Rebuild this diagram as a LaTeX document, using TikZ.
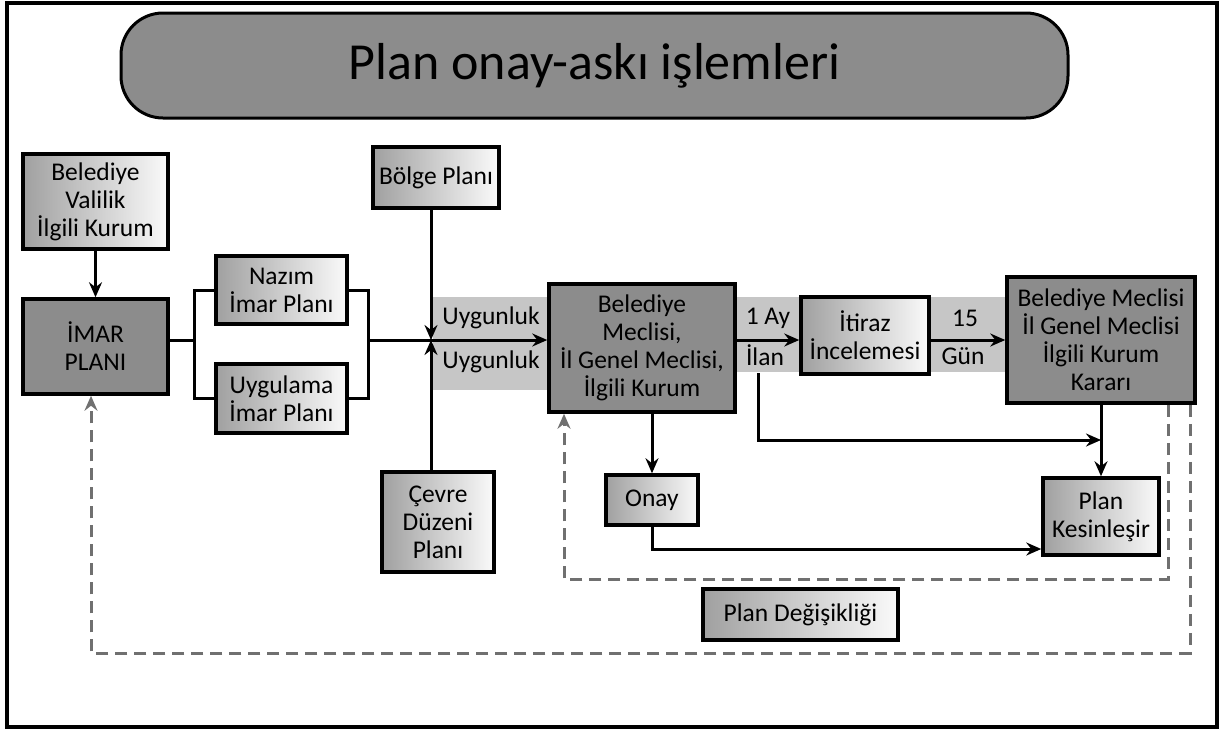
\documentclass[tikz,border=0pt]{standalone}
\usepackage{fontspec}
\setmainfont{Carlito}
\usetikzlibrary{arrows.meta}
\definecolor{boxdark}{RGB}{140,140,140}
\definecolor{bandgray}{RGB}{198,198,198}
\definecolor{dashgray}{RGB}{112,112,112}
\definecolor{gradL}{RGB}{160,160,160}
\definecolor{gradR}{RGB}{250,250,250}
\newcommand\boxfont{\fontsize{25.5}{28}\selectfont}
\begin{document}
\begin{tikzpicture}[x=1pt,y=-1pt,
  box/.style={draw=black, line width=3.5pt, align=center, inner sep=0pt, font=\boxfont, text=black},
  lightbox/.style={box, left color=gradL, right color=gradR},
  darkbox/.style={box, fill=boxdark},
  conn/.style={line width=3pt, draw=black},
  arr/.style={conn, -{Stealth[length=15pt,width=13pt,inset=5pt]}},
  dashloop/.style={draw=dashgray, line width=3pt, dash pattern=on 12pt off 7pt},
  dasharr/.style={dashloop, -{Stealth[length=15pt,width=13pt,inset=5pt]}},
  lbl/.style={font=\boxfont, inner sep=0pt, text=black}
]
\useasboundingbox (0,0) rectangle (1221,729);
% outer frame
\draw[line width=4pt] (7,3) rectangle (1217,727);

% title
\node[draw=black, line width=3pt, fill=boxdark, rounded corners=42pt,
      minimum width=947pt, minimum height=105pt, inner sep=0pt,
      font=\fontsize{52}{60}\selectfont] (title) at (594.5,65.5) {Plan onay-askı işlemleri};

% grey bands behind the labels
\fill[bandgray] (433,297) rectangle (549,390);
\fill[bandgray] (735,297) rectangle (1008,372);

% boxes
\node[lightbox, minimum width=145pt, minimum height=95pt] (bvik) at (95.5,201.5) {Belediye\\Valilik\\İlgili Kurum};
\node[darkbox, minimum width=145pt, minimum height=95pt] (imar) at (95.5,346.5) {İMAR\\PLANI};
\node[lightbox, minimum width=131pt, minimum height=68pt] (nazim) at (281.5,290) {Nazım\\İmar Planı};
\node[lightbox, minimum width=131pt, minimum height=69pt] (uyg) at (281.5,398.5) {Uygulama\\İmar Planı};
\node[lightbox, minimum width=126pt, minimum height=61pt] (bolge) at (436,177.5) {Bölge Planı};
\node[lightbox, minimum width=112pt, minimum height=100pt] (cevre) at (438,522) {Çevre\\Düzeni\\Planı};
\node[darkbox, minimum width=186pt, minimum height=128pt] (bm) at (642,348) {Belediye\\Meclisi,\\İl Genel Meclisi,\\İlgili Kurum};
\node[lightbox, minimum width=92pt, minimum height=50pt] (onay) at (652,500) {Onay};
\node[lightbox, minimum width=128pt, minimum height=77pt] (itiraz) at (865,335.5) {İtiraz\\İncelemesi};
\node[darkbox, minimum width=188pt, minimum height=126pt] (karar) at (1101,340) {Belediye Meclisi\\İl Genel Meclisi\\İlgili Kurum\\Kararı};
\node[lightbox, minimum width=116pt, minimum height=77pt] (kes) at (1101,516.5) {Plan\\Kesinleşir};
\node[lightbox, minimum width=195pt, minimum height=51pt] (degis) at (800.5,614.5) {Plan Değişikliği};

% labels
\node[lbl] (u1) at (491,318) {Uygunluk};
\node[lbl] (u2) at (491,362) {Uygunluk};
\node[lbl] (ay) at (768,318) {1 Ay};
\node[lbl] (ilan) at (765,355) {İlan};
\node[lbl] (onbes) at (965,318) {15};
\node[lbl] (gun) at (963,356) {Gün};

% junction points
\coordinate (jl) at (194,340);
\coordinate (jr) at (368,340);
\coordinate (jc) at (431,340);
\coordinate (ilanTop) at (758,373);
\coordinate (ilanEnd) at (1101,440);
\coordinate (onayRow) at (654,549);
\coordinate (d1) at (1168,579);
\coordinate (d2) at (564,579);
\coordinate (o1) at (1190,653);
\coordinate (o2) at (91,653);

% connectors
\draw[arr] (bvik) -- (imar);
\draw[conn] (imar.east |- jl) -- (jl);
\draw[conn] (nazim.west) -| (jl) |- (uyg.west);
\draw[conn] (nazim.east) -| (jr) |- (uyg.east);
\draw[arr] (jr) -- (bm.west |- jr);
\draw[arr] (bolge.south -| jc) -- (jc);
\draw[arr] (cevre.north -| jc) -- (jc);
\draw[arr] (bm.east |- jr) -- (itiraz.west |- jr);
\draw[arr] (itiraz.east |- jr) -- (karar.west |- jr);
\draw[arr] (ilanTop) |- (ilanEnd);
\draw[arr] (karar.south) -- (kes.north);
\draw[arr] (onay.south) |- (kes.west |- onayRow);
\draw[arr] (bm.south -| onay) -- (onay.north);

% dashed feedback loops
\draw[dasharr] (karar.south -| d1) |- (d2) -- (bm.south -| d2);
\draw[dasharr] (karar.south -| o1) |- (o2) -- (imar.south -| o2);
\end{tikzpicture}
\end{document}
